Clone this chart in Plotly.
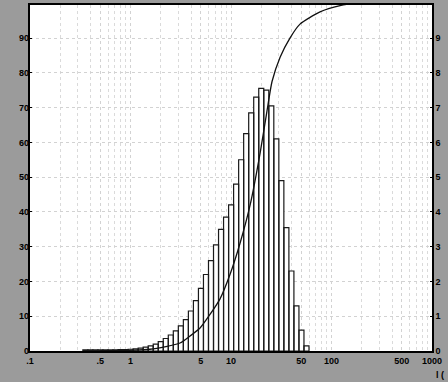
import plotly.graph_objects as go

# ---- data ----
# histogram: 20 bins per decade, last bin edge at ~60
BINS_PER_DECADE = 20
LAST_EDGE = 59.7
# bar heights (right-hand axis, 0..10), from the smallest size class to the largest
bar_heights = [0.03, 0.03, 0.03, 0.03, 0.03, 0.03, 0.03, 0.04, 0.04, 0.05,
               0.06, 0.08, 0.11, 0.15, 0.20, 0.27, 0.36, 0.46, 0.58, 0.72,
               0.90, 1.15, 1.45, 1.80, 2.20, 2.60, 3.05, 3.50, 3.85, 4.20,
               4.80, 5.50, 6.25, 6.85, 7.30, 7.55, 7.50, 7.05, 6.10, 4.90,
               3.55, 2.30, 1.30, 0.60, 0.15]

# cumulative curve (left-hand axis, %)
cum_size = [0.5, 1.56, 3.11, 3.91, 4.92, 6.18, 7.78, 9.77, 12.3, 15.5, 19.5,
            22.8, 25.6, 30.8, 38.6, 48.6, 76.9, 121.6, 171.4, 1000]
cum_pct = [0.0, 0.5, 2.3, 4.3, 6.6, 10.5, 15.0, 22.0, 31.0, 42.0, 57.0,
           69.0, 77.5, 84.5, 90.0, 94.0, 97.5, 99.3, 100.0, 100.0]

# axis ticks
x_tickvals = [0.1, 0.5, 1, 5, 10, 50, 100, 500, 1000]
x_ticktext = [".1", ".5", "1", "5", "10", "50", "100", "500", "1000"]
y_left_ticks = [0, 10, 20, 30, 40, 50, 60, 70, 80, 90]
y_right_ticks = [0, 1, 2, 3, 4, 5, 6, 7, 8, 9]

# ---- build bar outlines in data space ----
n = len(bar_heights)
ratio = 10 ** (1.0 / BINS_PER_DECADE)
edges = [LAST_EDGE / ratio ** (n - i) for i in range(n + 1)]
bx, by = [], []
for i, h in enumerate(bar_heights):
    l, r = edges[i], edges[i + 1]
    bx += [l, l, r, r, l, None]
    by += [0, h, h, 0, 0, None]

minor_vals = []
for dec in [0.1, 1, 10, 100]:
    for d in [2, 3, 4, 6, 7, 8, 9]:
        minor_vals.append(d * dec)

fig = go.Figure()
# bars on the primary (right-hand, 0..10) axis, drawn first
fig.add_trace(go.Scatter(x=bx, y=by, mode="lines", fill="toself",
                         fillcolor="white", line=dict(color="#1a1a1a", width=1.2),
                         yaxis="y", hoverinfo="skip", showlegend=False))
# cumulative curve on the overlaying (left-hand, %) axis, drawn on top
fig.add_trace(go.Scatter(x=cum_size, y=cum_pct, mode="lines", yaxis="y2",
                         line=dict(color="#111111", width=1.3, shape="spline", smoothing=0.6),
                         showlegend=False))

font = dict(family="Liberation Sans, Arial, sans-serif", size=9, color="black", weight="bold")

fig.update_layout(
    width=448, height=382,
    margin=dict(l=30, r=16, t=5, b=31),
    paper_bgcolor="#9b9b9b",
    plot_bgcolor="white",
    xaxis=dict(type="log", range=[-1, 3], tickvals=x_tickvals, ticktext=x_ticktext,
               tickfont=font, ticks="", showgrid=True, gridcolor="#d2d2d2",
               griddash="dot", gridwidth=1, automargin=False,
               minor=dict(tickvals=minor_vals, showgrid=True, gridcolor="#dadada",
                          griddash="dot", gridwidth=1, ticks=""),
               showline=True, linecolor="black", linewidth=1.5, mirror=True,
               zeroline=False),
    yaxis=dict(range=[0, 9.95], tickvals=y_right_ticks, tickfont=font, side="right",
               ticks="inside", ticklen=2, tickcolor="black", automargin=False,
               showgrid=True, gridcolor="#d2d2d2", griddash="dot", gridwidth=1,
               showline=True, linecolor="black", linewidth=1.5, mirror=True,
               zeroline=False),
    yaxis2=dict(range=[0, 99.5], tickvals=y_left_ticks, tickfont=font,
                overlaying="y", side="left", ticks="inside", ticklen=2,
                tickcolor="black", showgrid=False, zeroline=False, automargin=False,
                showline=False),
    annotations=[dict(text="l (", xref="paper", yref="paper", x=1.005, y=-0.07,
                      xanchor="left", yanchor="middle", showarrow=False,
                      font=font)],
)

fig.write_html("out.html", config={"displayModeBar": False},
               post_script="document.body.style.margin='0px';"
                           "document.body.style.overflow='hidden';")
